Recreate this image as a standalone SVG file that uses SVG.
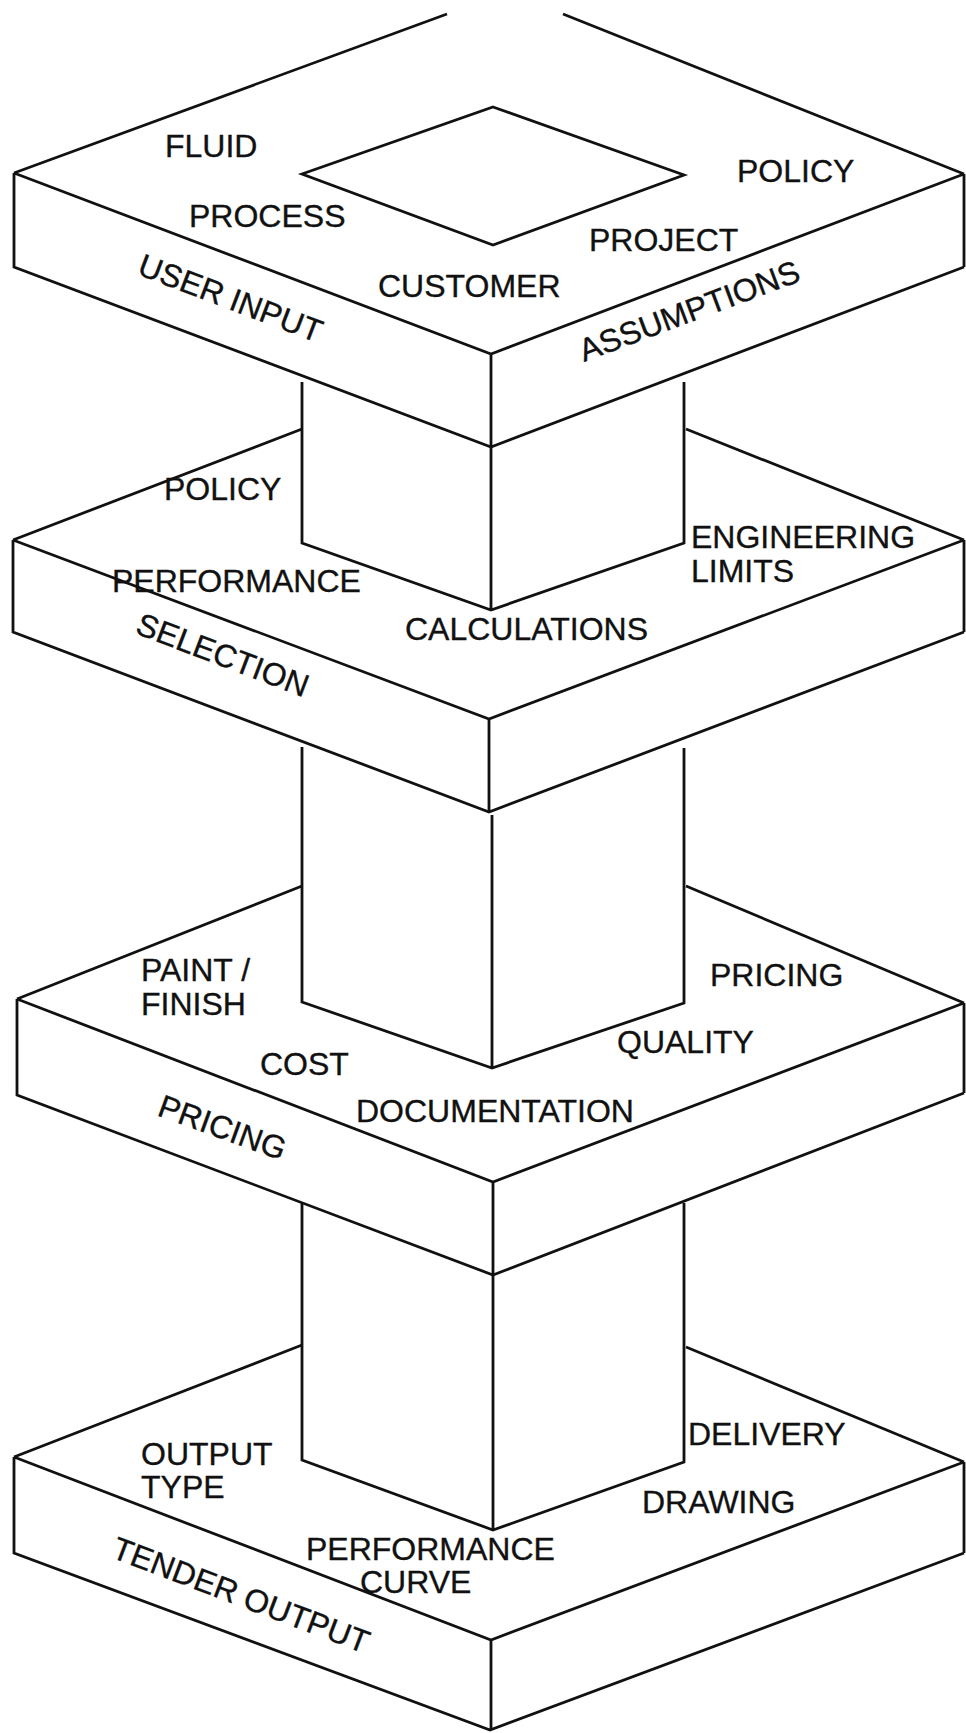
<svg xmlns="http://www.w3.org/2000/svg" width="966" height="1733" viewBox="0 0 966 1733">
<style>
.ln{fill:none;stroke:#111;stroke-width:2.8;stroke-linejoin:miter;stroke-linecap:butt}
.t{font-family:"Liberation Sans",Arial,Helvetica,sans-serif;font-size:32px;fill:#111;stroke:#111;stroke-width:0.35}
</style>
<rect width="966" height="1733" fill="#ffffff"/>
<g id="connectors">
  <g id="column-1">
    <path class="ln" d="M302,382 V543 L491,610 L684,543 V382 M491,447 V610"/>
  </g>
  <g id="column-2">
    <path class="ln" d="M302,747 V1002 L492,1068 L684,1003 V748 M492,815 V1068"/>
  </g>
  <g id="column-3">
    <path class="ln" d="M302,1203 V1460 L493,1530 L684,1462 V1203 M493,1275 V1530"/>
  </g>
</g>
<g id="layer-user-input">
  <path class="ln" d="M447,14 L14,173 M563,14 L964,174 M14,173 L491,354 L964,174 M14,173 V267 L491,447 L964,267 M491,354 V447 M964,174 V267"/>
  <path class="ln" d="M493,107 L684,175 L493,245 L302,174 Z"/>
  <text class="t" x="165" y="157">FLUID</text>
  <text class="t" x="189" y="227">PROCESS</text>
  <text class="t" x="737" y="182">POLICY</text>
  <text class="t" x="589" y="251">PROJECT</text>
  <text class="t" x="378" y="297">CUSTOMER</text>
  <text class="t" transform="translate(136,274) rotate(20.8)">USER INPUT</text>
  <text class="t" transform="translate(584,362) rotate(-20.5)">ASSUMPTIONS</text>
</g>
<g id="layer-selection">
  <path class="ln" d="M302,429 L13,540 M686,429 L964,540 M13,540 L489,719 L964,540 M13,540 V632 L489,812 L964,632 M489,719 V812 M964,540 V632"/>
  <text class="t" x="164" y="500">POLICY</text>
  <text class="t" x="112" y="592">PERFORMANCE</text>
  <text class="t" x="691" y="548">ENGINEERING</text>
  <text class="t" x="691" y="582">LIMITS</text>
  <text class="t" x="405" y="640">CALCULATIONS</text>
  <text class="t" transform="translate(134,633) rotate(20.8)">SELECTION</text>
</g>
<g id="layer-pricing">
  <path class="ln" d="M302,886 L17,999 M686,886 L964,1003 M17,999 L493,1182 L964,1003 M17,999 V1095 L493,1275 L964,1093 M493,1182 V1275 M964,1003 V1093"/>
  <text class="t" x="141" y="981">PAINT /</text>
  <text class="t" x="141" y="1015">FINISH</text>
  <text class="t" x="710" y="986">PRICING</text>
  <text class="t" x="617" y="1053">QUALITY</text>
  <text class="t" x="260" y="1075">COST</text>
  <text class="t" x="356" y="1122">DOCUMENTATION</text>
  <text class="t" transform="translate(156,1115) rotate(20)">PRICING</text>
</g>
<g id="layer-tender-output">
  <path class="ln" d="M302,1345 L14,1457 M686,1347 L964,1462 M14,1457 L491,1640 L964,1462 M14,1457 V1553 L490,1730 L964,1553 M491,1640 V1730 M964,1462 V1553"/>
  <text class="t" x="141" y="1465">OUTPUT</text>
  <text class="t" x="141" y="1498">TYPE</text>
  <text class="t" x="688" y="1445">DELIVERY</text>
  <text class="t" x="642" y="1513">DRAWING</text>
  <text class="t" x="306" y="1560">PERFORMANCE</text>
  <text class="t" x="360" y="1593">CURVE</text>
  <text class="t" transform="translate(110,1557) rotate(20.8)">TENDER OUTPUT</text>
</g>
</svg>
